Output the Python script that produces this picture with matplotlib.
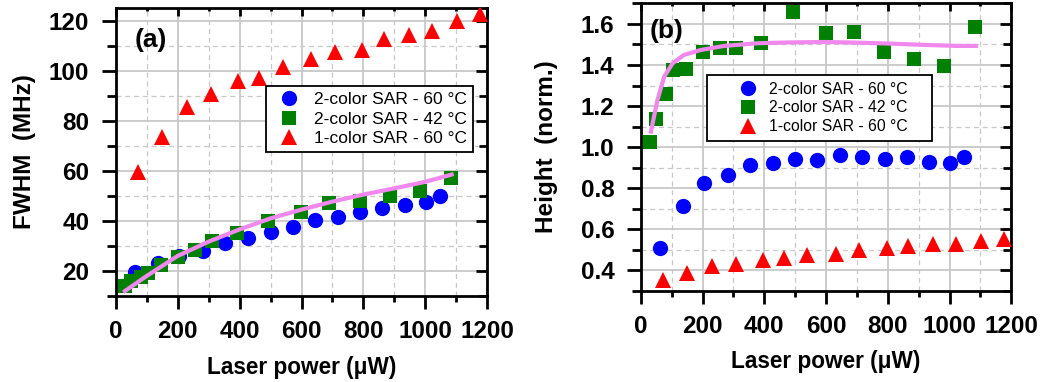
import matplotlib
matplotlib.use("Agg")
import matplotlib.pyplot as plt
from matplotlib.ticker import MultipleLocator, FormatStrFormatter

plt.rcParams['font.family'] = ['Liberation Sans', 'DejaVu Sans']

# (a) FWHM data
x_red = [71, 151, 231, 308, 396, 464, 539, 631, 708, 796, 866, 947, 1020, 1101, 1176]
fwhm_red = [59.7, 73.6, 85.3, 90.7, 96, 97, 101.3, 104.7, 107.6, 108.4, 112.7, 114.3, 116, 120, 122.7]
x_blue = [62, 136, 206, 282, 354, 427, 501, 572, 644, 717, 790, 861, 935, 1002, 1048]
fwhm_blue = [19.5, 23.2, 25.8, 28, 31.2, 33.2, 35.7, 37.4, 40.2, 41.7, 43.6, 45.3, 46.3, 47.7, 50]
x_green = [29, 51, 81, 103, 146, 200, 256, 310, 391, 493, 599, 690, 789, 886, 983, 1082]
fwhm_green = [14, 15.8, 17.4, 19, 22.5, 25.5, 28.3, 32, 35.2, 40, 43.4, 47.3, 48, 50, 52, 57]
x_fit_a = [30, 100, 200, 300, 400, 500, 600, 700, 800, 900, 1000, 1085]
fwhm_fit = [12, 18, 26, 31.7, 36.6, 41, 44.5, 47.7, 50.5, 53, 55.6, 58.5]

# (b) height data
h_red = [0.351, 0.384, 0.42, 0.43, 0.449, 0.46, 0.473, 0.481, 0.5, 0.506, 0.517, 0.527, 0.53, 0.543, 0.55]
h_blue = [0.506, 0.712, 0.826, 0.863, 0.912, 0.924, 0.94, 0.937, 0.961, 0.95, 0.941, 0.95, 0.928, 0.92, 0.953]
h_green = [1.026, 1.135, 1.259, 1.376, 1.38, 1.465, 1.485, 1.485, 1.506, 1.657, 1.554, 1.563, 1.465, 1.428, 1.397, 1.584]
x_fit_b = [33, 54, 76, 103, 140, 194, 270, 378, 486, 594, 701, 809, 917, 1025, 1085]
h_fit = [1.075, 1.229, 1.343, 1.408, 1.449, 1.473, 1.493, 1.506, 1.51, 1.512, 1.509, 1.504, 1.498, 1.493, 1.493]

labels = ['2-color SAR - 60 °C', '2-color SAR - 42 °C', '1-color SAR - 60 °C']
c_blue, c_green, c_red, c_fit = '#0000ff', '#008000', '#ff0000', '#f088ee'

fig = plt.figure(figsize=(10.48, 3.82), dpi=100)
ax1 = fig.add_axes([0.1104, 0.2251, 0.3546, 0.754])
ax2 = fig.add_axes([0.6114, 0.239, 0.3536, 0.752])


def style(ax, ylo, yhi, ymaj, ymin):
    ax.set_xlim(0, 1200)
    ax.set_ylim(ylo, yhi)
    ax.xaxis.set_major_locator(MultipleLocator(200))
    ax.xaxis.set_minor_locator(MultipleLocator(100))
    ax.yaxis.set_major_locator(MultipleLocator(ymaj))
    ax.yaxis.set_minor_locator(MultipleLocator(ymin))
    ax.grid(which='major', color='#c8c8c8', lw=1.3, ls='-')
    ax.grid(which='minor', color='#c8c8c8', lw=0.9, ls=(0, (4, 3)))
    ax.set_axisbelow(True)
    for s in ax.spines.values():
        s.set_linewidth(2)
    ax.tick_params(axis='x', which='major', direction='out', length=9.4, width=2, pad=8,
                   top=True, labeltop=False)
    ax.tick_params(axis='x', which='minor', direction='out', length=4.5, width=2, top=True)
    ax.tick_params(axis='y', which='major', direction='out', length=10, width=2, pad=9,
                   right=True, labelright=False)
    ax.tick_params(axis='y', which='minor', direction='out', length=6.5, width=2, right=True)
    for lab in ax.get_xticklabels() + ax.get_yticklabels():
        lab.set_fontsize(17.5)
        lab.set_fontweight('bold')
    ax.set_xlabel('Laser power (μW)', fontsize=16.3, fontweight='bold', labelpad=9)
    # right-hand and top ticks point inward
    for t in ax.yaxis.get_major_ticks():
        t.tick2line.set_marker(0)
        t.tick2line.set_markersize(8)
    for t in ax.yaxis.get_minor_ticks():
        t.tick2line.set_marker(0)
        t.tick2line.set_markersize(6)
    for t in ax.xaxis.get_major_ticks():
        t.tick2line.set_marker(3)
        t.tick2line.set_markersize(6)
    for t in ax.xaxis.get_minor_ticks():
        t.tick2line.set_marker(3)
        t.tick2line.set_markersize(2.5)


# panel (a)
ax1.plot(x_blue, fwhm_blue, 'o', color=c_blue, ms=11, mew=0, label=labels[0], zorder=3)
ax1.plot(x_green, fwhm_green, 's', color=c_green, ms=10, mew=0, label=labels[1], zorder=4)
ax1.plot(x_red, fwhm_red, '^', color=c_red, ms=12, mew=0, label=labels[2], zorder=3)
ax1.plot(x_fit_a, fwhm_fit, '-', color=c_fit, lw=3, zorder=5)
style(ax1, 10, 125, 20, 10)
ax1.yaxis.set_major_formatter(FormatStrFormatter('%d'))
ax1.set_ylabel('FWHM  (MHz)', fontsize=17.5, fontweight='bold', labelpad=9)
ax1.text(0.05, 0.89, '(a)', transform=ax1.transAxes, fontsize=19, fontweight='bold',
         va='center', ha='left')
leg1 = ax1.legend(loc='upper right', bbox_to_anchor=(0.961, 0.729), borderaxespad=0,
                  fontsize=12.5, frameon=True, fancybox=False, framealpha=1,
                  edgecolor='black', labelspacing=0.25, handlelength=2.0,
                  handletextpad=0.4, borderpad=0.35)
leg1.get_frame().set_linewidth(1.3)

# panel (b)
ax2.plot(x_blue, h_blue, 'o', color=c_blue, ms=11, mew=0, label=labels[0], zorder=3)
ax2.plot(x_green, h_green, 's', color=c_green, ms=10, mew=0, label=labels[1], zorder=4)
ax2.plot(x_red, h_red, '^', color=c_red, ms=12, mew=0, label=labels[2], zorder=3)
ax2.plot(x_fit_b, h_fit, '-', color=c_fit, lw=3, zorder=5)
style(ax2, 0.3, 1.7, 0.2, 0.1)
ax2.yaxis.set_major_formatter(FormatStrFormatter('%.1f'))
ax2.set_ylabel('Height  (norm.)', fontsize=17.5, fontweight='bold', labelpad=16)
ax2.text(0.025, 0.905, '(b)', transform=ax2.transAxes, fontsize=19, fontweight='bold',
         va='center', ha='left')
pad_labels = [s + '\u00a0\u00a0\u00a0\u00a0' for s in labels]
h2, _ = ax2.get_legend_handles_labels()
leg2 = ax2.legend(h2, pad_labels, loc='upper left', bbox_to_anchor=(0.178, 0.750),
                  borderaxespad=0, fontsize=11.3, frameon=True, fancybox=False,
                  framealpha=1, edgecolor='black', labelspacing=0.25, handlelength=4.4,
                  handletextpad=-0.8, borderpad=0.4)
leg2.get_frame().set_linewidth(1.3)

fig.savefig('out.png', dpi=100)
